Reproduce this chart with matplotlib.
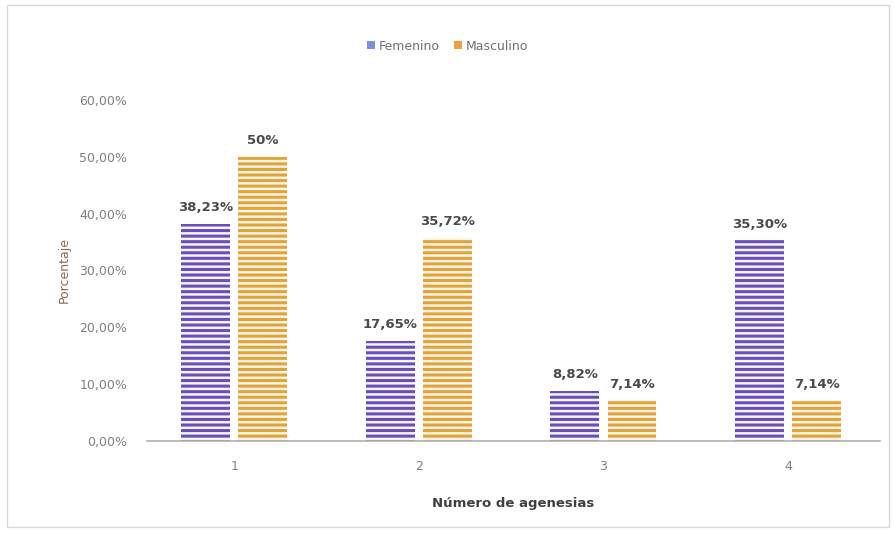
import numpy as np
import matplotlib.pyplot as plt
from matplotlib.patches import Rectangle
from matplotlib.ticker import FuncFormatter

categorias = ["1", "2", "3", "4"]
femenino = [38.23, 17.65, 8.82, 35.30]
masculino = [50.0, 35.72, 7.14, 7.14]
etiquetas_fem = ["38,23%", "17,65%", "8,82%", "35,30%"]
etiquetas_masc = ["50%", "35,72%", "7,14%", "7,14%"]

plt.rcParams['hatch.linewidth'] = 2.2

fig = plt.figure(figsize=(8.95, 5.33), dpi=100)
ax = fig.add_axes([0.164, 0.173, 0.819, 0.639])

x = np.arange(1, len(categorias) + 1)
w = 0.265
off = 0.155

b1 = ax.bar(x - off, femenino, w, color='#f4f4fb', edgecolor='#6a4fb8',
            hatch='---', linewidth=0, label='Femenino')
b2 = ax.bar(x + off, masculino, w, color='#fbf4e6', edgecolor='#e0a43a',
            hatch='---', linewidth=0, label='Masculino')

for xi, v, t in zip(x, femenino, etiquetas_fem):
    ax.text(xi - off, v + 1.7, t, ha='center', va='bottom', fontsize=9.5,
            color='#4a4a4a', fontweight='semibold')
for xi, v, t in zip(x, masculino, etiquetas_masc):
    ax.text(xi + off, v + 1.7, t, ha='center', va='bottom', fontsize=9.5,
            color='#4a4a4a', fontweight='semibold')

ax.set_xlim(0.527, 4.497)
ax.set_ylim(0, 60)
ax.set_yticks(np.arange(0, 61, 10))
ax.yaxis.set_major_formatter(FuncFormatter(lambda v, p: ("%.2f%%" % v).replace('.', ',')))
ax.set_xticks(x)
ax.set_xticklabels(categorias)
ax.tick_params(axis='both', length=0, colors='#808080', labelsize=9)
ax.tick_params(axis='x', pad=14)
ax.tick_params(axis='y', pad=14)

for s in ['top', 'right', 'left']:
    ax.spines[s].set_visible(False)
ax.spines['bottom'].set_color('#b0b0b0')
ax.spines['bottom'].set_linewidth(1.2)

ax.set_ylabel('Porcentaje', fontsize=9, color='#8a6a50', labelpad=6)
ax.set_xlabel('Número de agenesias', fontsize=9.5, color='#404040',
              fontweight='bold', labelpad=17)

leg = fig.legend(handles=[b1, b2], loc='center', bbox_to_anchor=(0.5, 0.913),
                 ncol=2, frameon=False, fontsize=9, handlelength=0.6,
                 handleheight=0.6, handletextpad=0.3, columnspacing=1.2)
for t in leg.get_texts():
    t.set_color('#707070')
leg.legend_handles[0].set_hatch(None)
leg.legend_handles[0].set_facecolor('#7b8fd6')
leg.legend_handles[1].set_hatch(None)
leg.legend_handles[1].set_facecolor('#f0a040')

fig.patches.append(Rectangle((0.008, 0.012), 0.985, 0.978, transform=fig.transFigure,
                             fill=False, edgecolor='#d8d8d8', linewidth=1))

fig.savefig('out.png', dpi=100)
